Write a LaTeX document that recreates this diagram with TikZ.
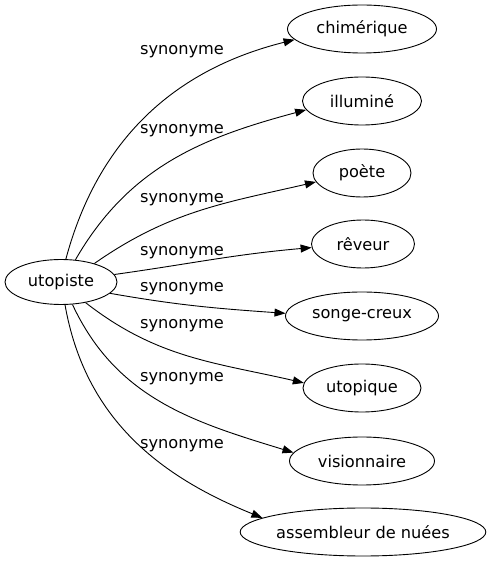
\documentclass[tikz,border=0pt]{standalone}
\usepackage{fontspec}
\setmainfont{DejaVu Sans}
\usetikzlibrary{positioning, shapes.geometric, arrows.meta}

\begin{document}
\begin{tikzpicture}[x=1pt, y=1pt,
  word/.style={draw, ellipse, line width=0.9pt, inner sep=0pt, minimum height=48pt},
  rel/.style={line width=0.9pt, -{Triangle[length=11pt,width=8pt]}},
  tag/.style={inner sep=0pt}]
  \useasboundingbox (0,0) rectangle (489,563);
  \fontsize{16.2}{19}\selectfont
  \node[word, minimum width=112pt, minimum height=45pt] (u) at (61,281) {utopiste};
  \node[word, minimum width=149pt] (c) at (362,534) {chimérique};
  \node[word, minimum width=119pt] (i) at (362,462) {illuminé};
  \node[word, minimum width=98pt] (p) at (362,390) {poète};
  \node[word, minimum width=103pt] (r) at (363,319) {rêveur};
  \node[word, minimum width=153pt] (s) at (362,247) {songe-creux};
  \node[word, minimum width=118pt] (t) at (362,175) {utopique};
  \node[word, minimum width=145pt] (v) at (362,102) {visionnaire};
  \node[word, minimum width=244pt] (a) at (363,31) {assembleur de nuées};
  \draw[rel] (u.78) to[out=75, in=194] (c.189);
  \draw[rel] (u.57) to[out=60, in=195] (i.189);
  \draw[rel] (u.29) to[out=35, in=193] (p.191);
  \draw[rel] (u.8) to[out=8, in=185] (r.184);
  \draw[rel] (u.-13) to[out=-10, in=176] (s.178);
  \draw[rel] (u.-40) to[out=-38, in=167] (t.175);
  \draw[rel] (u.-63) to[out=-65, in=163] (v.173);
  \draw[rel] (u.-80) to[out=-80, in=158] (a.172);
  \node[tag] (l1) at (182,511) {synonyme};
  \node[tag] (l2) at (182,432) {synonyme};
  \node[tag] (l3) at (182,363) {synonyme};
  \node[tag] (l4) at (182,310) {synonyme};
  \node[tag] (l5) at (182,274) {synonyme};
  \node[tag] (l6) at (182,237) {synonyme};
  \node[tag] (l7) at (182,184) {synonyme};
  \node[tag] (l8) at (182,117) {synonyme};
\end{tikzpicture}
\end{document}
